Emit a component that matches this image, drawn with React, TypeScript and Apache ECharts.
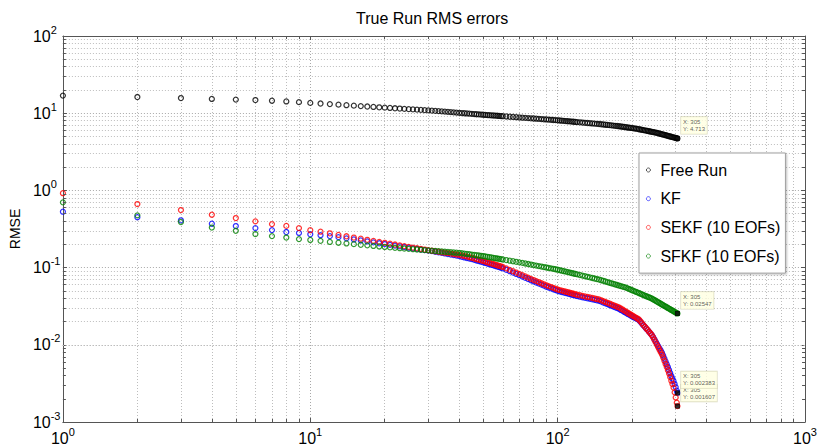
import React, { useEffect, useRef } from "react";
import * as echarts from "echarts";

// x positions (time step index) of the plotted samples
const steps = [
  1, 2, 3, 4, 5, 6, 7, 8, 9, 10, 11, 12, 13, 14, 15, 16, 17, 18, 19, 20,
  21, 22, 23, 24, 25, 26, 27, 28, 29, 30, 31, 32, 33, 34, 35, 36, 37, 38, 39, 40,
  41, 42, 43, 44, 45, 46, 47, 48, 49, 50, 51, 52, 53, 54, 55, 56, 57, 58, 59, 60,
  62, 64, 66, 68, 70, 72, 74, 76, 78, 80, 82, 84, 86, 88, 90, 92, 94, 96, 98, 100,
  102, 104, 106, 108, 110, 112, 114, 116, 118, 120,
  123, 126, 129, 132, 135, 138, 141, 144, 147, 150,
  153, 156, 159, 162, 165, 168, 171, 174, 177,
  180, 183, 186, 189, 192, 195, 198, 201, 204, 207,
  210, 213, 216, 219, 222, 225, 228, 231, 234, 237, 240, 243, 246, 249,
  252, 255, 258, 261, 264, 267, 270, 273, 276, 279, 282, 285, 288, 291, 294, 297, 300, 303,
  305,
];

const freeRun = [
  16.9, 16.2, 15.7, 15.3, 15.0, 14.8, 14.5, 14.2, 13.9, 13.6,
  13.35, 13.11, 12.9, 12.7, 12.52, 12.36, 12.21, 12.06, 11.93, 11.8,
  11.69, 11.58, 11.48, 11.38, 11.29, 11.2, 11.12, 11.04, 10.96, 10.89,
  10.8, 10.71, 10.63, 10.55, 10.47, 10.39, 10.32, 10.24, 10.18, 10.11,
  10.05, 9.99, 9.93, 9.87, 9.81, 9.75, 9.7, 9.65, 9.6, 9.55,
  9.5, 9.46, 9.42, 9.38, 9.34, 9.3, 9.26, 9.22, 9.18, 9.15,
  9.07, 9.0, 8.94, 8.88, 8.81, 8.75, 8.7, 8.64, 8.59, 8.54,
  8.49, 8.44, 8.39, 8.34, 8.3, 8.26, 8.21, 8.17, 8.13, 8.09,
  8.05, 8.0, 7.96, 7.91, 7.87, 7.83, 7.79, 7.75, 7.71, 7.67,
  7.62, 7.57, 7.51, 7.46, 7.42, 7.37, 7.32, 7.28, 7.24, 7.19,
  7.14, 7.09, 7.05, 7.0, 6.95, 6.91, 6.86, 6.82, 6.78,
  6.73, 6.68, 6.63, 6.58, 6.53, 6.49, 6.44, 6.4, 6.35, 6.31,
  6.26, 6.2, 6.15, 6.09, 6.04, 5.99, 5.94, 5.89, 5.84, 5.79, 5.74, 5.7, 5.65, 5.61,
  5.56, 5.5, 5.45, 5.39, 5.34, 5.29, 5.24, 5.19, 5.14, 5.09, 5.04, 4.99, 4.95, 4.9, 4.86, 4.82, 4.78, 4.74,
  4.713,
];

const kf = [
  0.53, 0.45, 0.41, 0.37, 0.345, 0.325, 0.306, 0.289, 0.281, 0.27,
  0.263, 0.256, 0.248, 0.2393, 0.2316, 0.2246, 0.2182, 0.2123, 0.2067, 0.2017,
  0.197, 0.1927, 0.1884, 0.1847, 0.1811, 0.1777, 0.1746, 0.1715, 0.1687, 0.166,
  0.1637, 0.1604, 0.1578, 0.155, 0.1526, 0.1501, 0.1477, 0.1452, 0.1431, 0.1409,
  0.138, 0.1354, 0.1331, 0.1308, 0.1286, 0.126, 0.1236, 0.1214, 0.1192, 0.1171,
  0.1149, 0.1127, 0.1107, 0.1087, 0.1068, 0.1048, 0.103, 0.1013, 0.0996, 0.0979,
  0.0937, 0.0898, 0.0862, 0.0828, 0.0797, 0.0767, 0.0738, 0.0711, 0.0686, 0.0662,
  0.0641, 0.062, 0.0602, 0.0584, 0.0566, 0.0552, 0.0538, 0.0524, 0.0512, 0.0499,
  0.0491, 0.0483, 0.0475, 0.0468, 0.0461, 0.0453, 0.0446, 0.044, 0.0433, 0.0427,
  0.042, 0.0413, 0.0406, 0.04, 0.0395, 0.0388, 0.0382, 0.0376, 0.0372, 0.0362,
  0.0352, 0.0345, 0.0336, 0.0328, 0.0321, 0.0313, 0.0306, 0.0299, 0.0293,
  0.0283, 0.0275, 0.0266, 0.0259, 0.0251, 0.0245, 0.0238, 0.0231, 0.0226, 0.022,
  0.0215, 0.0209, 0.0199, 0.0189, 0.0179, 0.0171, 0.0163, 0.0156, 0.0148, 0.0141, 0.0134, 0.01267, 0.01178, 0.01098,
  0.01029, 0.0096, 0.00898, 0.00843, 0.00792, 0.00728, 0.00664, 0.00609, 0.00561, 0.00515, 0.00472, 0.00432, 0.00394, 0.00366, 0.0034, 0.0031, 0.00283, 0.00255,
  0.002383,
];

const sekf = [
  0.92, 0.665, 0.556, 0.484, 0.438, 0.397, 0.366, 0.347, 0.325, 0.305,
  0.292, 0.278, 0.265, 0.2545, 0.2451, 0.2367, 0.2291, 0.222, 0.2155, 0.2096,
  0.2041, 0.199, 0.1941, 0.1897, 0.1855, 0.1816, 0.178, 0.1744, 0.1712, 0.168,
  0.1654, 0.1628, 0.1605, 0.1582, 0.156, 0.1539, 0.1518, 0.1497, 0.1478, 0.146,
  0.1435, 0.141, 0.1386, 0.1363, 0.134, 0.1312, 0.1288, 0.1265, 0.1242, 0.122,
  0.1197, 0.1174, 0.1153, 0.1132, 0.1112, 0.1092, 0.1073, 0.1055, 0.1037, 0.102,
  0.0976, 0.0935, 0.0898, 0.0863, 0.083, 0.0799, 0.0769, 0.0741, 0.0715, 0.069,
  0.0668, 0.0646, 0.0627, 0.0608, 0.059, 0.0575, 0.056, 0.0546, 0.0533, 0.052,
  0.0511, 0.0503, 0.0495, 0.0487, 0.048, 0.0472, 0.0465, 0.0458, 0.0451, 0.0445,
  0.0438, 0.043, 0.0423, 0.0417, 0.0411, 0.0404, 0.0398, 0.0392, 0.0387, 0.0377,
  0.0367, 0.0359, 0.035, 0.0342, 0.0334, 0.0326, 0.0319, 0.0311, 0.0305,
  0.0295, 0.0286, 0.0277, 0.0269, 0.026, 0.0253, 0.0245, 0.0238, 0.0232, 0.0225,
  0.0219, 0.0213, 0.0202, 0.0191, 0.0181, 0.0172, 0.0164, 0.0156, 0.0148, 0.0141, 0.0134, 0.01254, 0.01161, 0.01076,
  0.00999, 0.00928, 0.00863, 0.00803, 0.00747, 0.00684, 0.00621, 0.00564, 0.00515, 0.00468, 0.00425, 0.00382, 0.00343, 0.0031, 0.00279, 0.00242, 0.00208, 0.00178,
  0.001607,
];

const sfkf = [
  0.7, 0.475, 0.39, 0.33, 0.3, 0.272, 0.256, 0.245, 0.234, 0.228,
  0.222, 0.215, 0.21, 0.2055, 0.2014, 0.1976, 0.1941, 0.1909, 0.1878, 0.185,
  0.1827, 0.1806, 0.1785, 0.1767, 0.1749, 0.1731, 0.1715, 0.1699, 0.1684, 0.167,
  0.1656, 0.1642, 0.1629, 0.1617, 0.1605, 0.1593, 0.1581, 0.157, 0.156, 0.155,
  0.1534, 0.1518, 0.1503, 0.1489, 0.1474, 0.146, 0.1447, 0.1435, 0.1422, 0.141,
  0.1395, 0.138, 0.1366, 0.1352, 0.1338, 0.1324, 0.1311, 0.1299, 0.1286, 0.1274,
  0.1252, 0.1229, 0.1209, 0.1189, 0.117, 0.115, 0.1131, 0.1113, 0.1095, 0.1078,
  0.1062, 0.1046, 0.1031, 0.1017, 0.1003, 0.0989, 0.0976, 0.0964, 0.0952, 0.094,
  0.0926, 0.0912, 0.0899, 0.0886, 0.0874, 0.0862, 0.085, 0.0839, 0.0828, 0.0818,
  0.0802, 0.0788, 0.0774, 0.076, 0.0747, 0.0734, 0.0722, 0.0711, 0.07, 0.0686,
  0.0674, 0.0661, 0.0649, 0.0637, 0.0626, 0.0616, 0.0605, 0.0595, 0.0585,
  0.0576, 0.0567, 0.0558, 0.055, 0.0538, 0.0527, 0.0516, 0.0506, 0.0496, 0.0486,
  0.0477, 0.0468, 0.0459, 0.045, 0.0442, 0.0434, 0.0426, 0.0419, 0.0412, 0.0405, 0.0398, 0.0389, 0.038, 0.0372,
  0.0363, 0.0355, 0.0348, 0.034, 0.0333, 0.0326, 0.0319, 0.0313, 0.0307, 0.03, 0.0294, 0.0289, 0.0283, 0.0278, 0.0272, 0.0267, 0.0262, 0.0257,
  0.02547,
];

const seriesNames = ["Free Run", "KF", "SEKF (10 EOFs)", "SFKF (10 EOFs)"];
const seriesColors = ["#000000", "#0000ff", "#ff0000", "#008000"];

// axis decades and minor multipliers (for minor grid lines / ticks)
const xDecades = [1, 10, 100];
const yDecades = [0.001, 0.01, 0.1, 1, 10];
const minorMult = [2, 3, 4, 5, 6, 7, 8, 9];

const FONT = "'Liberation Sans', Arial, Helvetica, sans-serif";

export default function App() {
  const ref = useRef<HTMLDivElement>(null);

  useEffect(() => {
    if (!ref.current) return;
    const chart = echarts.init(ref.current, null, { renderer: "svg" });

    const xMin = 1, xMax = 1000, yMin = 0.001, yMax = 100;
    const xMinor = xDecades.flatMap((d) => minorMult.map((m) => m * d));
    const yMinor = yDecades.flatMap((d) => minorMult.map((m) => m * d));
    // tick length factors (about 3px in data space)
    const tx = Math.pow(10, 3 / 249);
    const ty = Math.pow(10, 3 / 77.2);

    const supFormatter = (v: number) => {
      const e = Math.round(Math.log10(v));
      return `{b|10}{s|${e}}`;
    };
    const rich = {
      b: { fontSize: 16, lineHeight: 24, fontFamily: FONT, color: "#000" },
      s: { fontSize: 11, lineHeight: 11, verticalAlign: "top", fontFamily: FONT, color: "#000" },
    };

    const axisLineStyle = { color: "#555", width: 1 };
    const majorGrid = { color: "#a8a8a8", width: 1, type: [1, 2] };
    const minorGrid = { color: "#bdbdbd", width: 1, type: [1, 2] };

    const dataSets = [freeRun, kf, sekf, sfkf];

    const mainSeries = dataSets.map((vals, i) => ({
      name: seriesNames[i],
      type: "scatter",
      xAxisIndex: 0,
      yAxisIndex: 0,
      symbol: "circle",
      symbolSize: 5,
      z: 2,
      itemStyle: { color: "rgba(0,0,0,0)", borderColor: seriesColors[i], borderWidth: 1.25 },
      emphasis: { disabled: true },
      data: steps.map((x, j) => [x, vals[j]]),
      ...(i === 0
        ? {
            markLine: {
              silent: true,
              z: 1,
              symbol: ["none", "none"],
              label: { show: false },
              lineStyle: minorGrid,
              emphasis: { disabled: true },
              data: [
                ...xMinor.map((v) => ({ xAxis: v })),
                ...yMinor.map((v) => ({ yAxis: v })),
              ],
            },
          }
        : {}),
    }));

    const tickLines = [
      ...yMinor.map((v) => [{ coord: [xMin, v] }, { coord: [xMin * tx, v] }]),
      ...yMinor.map((v) => [{ coord: [xMax / tx, v] }, { coord: [xMax, v] }]),
      ...xMinor.map((v) => [{ coord: [v, yMin] }, { coord: [v, yMin * ty] }]),
      ...xMinor.map((v) => [{ coord: [v, yMax / ty] }, { coord: [v, yMax] }]),
    ];

    const last = steps.length - 1;
    const tipData = [
      [steps[last], freeRun[last]],
      [steps[last], sfkf[last]],
      [steps[last], sekf[last]],
      [steps[last], kf[last]],
    ];

    const tipSeries = {
      name: "tips",
      type: "scatter",
      xAxisIndex: 0,
      yAxisIndex: 0,
      symbol: "rect",
      symbolSize: 5,
      z: 4,
      itemStyle: { color: "#000" },
      emphasis: { disabled: true },
      label: {
        show: true,
        position: [6, -19],
        formatter: (p: any) => `X: ${p.value[0]}\nY: ${p.value[1]}`,
        fontSize: 6,
        lineHeight: 7,
        fontFamily: FONT,
        color: "#333",
        backgroundColor: "#ffffe1",
        borderColor: "#cfcfb0",
        borderWidth: 0.6,
        padding: [1.5, 2, 1.5, 2],
      },
      data: tipData,
      markLine: {
        silent: true,
        z: 3,
        symbol: ["none", "none"],
        label: { show: false },
        lineStyle: { color: "#555", width: 1, type: "solid" },
        emphasis: { disabled: true },
        data: tickLines,
      },
    };

    const option: any = {
      animation: false,
      backgroundColor: "#ffffff",
      textStyle: { fontFamily: FONT },
      title: {
        text: "True Run RMS errors",
        left: 356,
        top: 10,
        padding: 0,
        textStyle: { fontSize: 16, fontWeight: "normal", color: "#000", fontFamily: FONT },
      },
      grid: { left: 60, right: 13, top: 36, bottom: 24, containLabel: false },
      legend: {
        data: seriesNames.map((n) => ({ name: n, icon: "circle" })),
        orient: "vertical",
        left: 639,
        top: 153,
        padding: [9, 5, 9, 7],
        itemGap: 12.7,
        itemWidth: 14,
        itemHeight: 4,
        itemStyle: { borderWidth: 0.8 },
        backgroundColor: "#ffffff",
        borderColor: "#a0a0a0",
        borderWidth: 1,
        shadowColor: "rgba(0,0,0,0.25)",
        shadowBlur: 2,
        shadowOffsetX: 1,
        shadowOffsetY: 1,
        selectedMode: false,
        textStyle: { fontSize: 16, color: "#000", fontFamily: FONT },
      },
      xAxis: [
        {
          type: "log",
          logBase: 10,
          min: xMin,
          max: xMax,
          position: "bottom",
          axisLine: { show: true, lineStyle: axisLineStyle },
          axisTick: { show: true, inside: true, length: 4, lineStyle: axisLineStyle },
          axisLabel: { formatter: supFormatter, rich, margin: 4, color: "#000" },
          splitLine: { show: true, lineStyle: majorGrid },
        },
        {
          type: "log",
          logBase: 10,
          min: xMin,
          max: xMax,
          position: "top",
          axisLine: { show: true, lineStyle: axisLineStyle },
          axisTick: { show: true, inside: true, length: 4, lineStyle: axisLineStyle },
          axisLabel: { show: false },
          splitLine: { show: false },
        },
      ],
      yAxis: [
        {
          type: "log",
          logBase: 10,
          min: yMin,
          max: yMax,
          position: "left",
          name: "RMSE",
          nameLocation: "middle",
          nameGap: 36,
          nameTextStyle: { fontSize: 14, color: "#000", fontFamily: FONT },
          axisLine: { show: true, lineStyle: axisLineStyle },
          axisTick: { show: true, inside: true, length: 4, lineStyle: axisLineStyle },
          axisLabel: { formatter: supFormatter, rich, margin: 30, align: "left", color: "#000" },
          splitLine: { show: true, lineStyle: majorGrid },
        },
        {
          type: "log",
          logBase: 10,
          min: yMin,
          max: yMax,
          position: "right",
          axisLine: { show: true, lineStyle: axisLineStyle },
          axisTick: { show: true, inside: true, length: 4, lineStyle: axisLineStyle },
          axisLabel: { show: false },
          splitLine: { show: false },
        },
      ],
      series: [...mainSeries, tipSeries],
    };

    chart.setOption(option);
    return () => chart.dispose();
  }, []);

  return (
    <div
      ref={ref}
      style={{ position: "absolute", left: 0, top: 0, width: 820, height: 446, background: "#fff" }}
    />
  );
}
